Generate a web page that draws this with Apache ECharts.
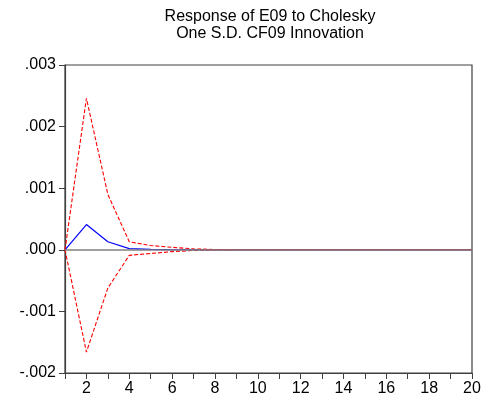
<!DOCTYPE html>
<html>
<head>
<meta charset="utf-8">
<script src="https://cdn.jsdelivr.net/npm/echarts@6/dist/echarts.min.js"></script>
<style>
  html, body { margin: 0; padding: 0; background: #fff; }
  #chart { width: 487px; height: 403px; }
</style>
</head>
<body>
<div id="chart"></div>
<script>
var periods = [1,2,3,4,5,6,7,8,9,10,11,12,13,14,15,16,17,18,19,20];
var response = [0, 0.00041, 0.00013, 0.00002, 0.000006, 0.000002, 0.000001, 0, 0, 0, 0, 0, 0, 0, 0, 0, 0, 0, 0, 0];
var upperBand = [0, 0.00246, 0.0009, 0.00013, 0.00007, 0.00004, 0.000015, 0.000005, 0, 0, 0, 0, 0, 0, 0, 0, 0, 0, 0, 0];
var lowerBand = [0, -0.00166, -0.00062, -0.00009, -0.00006, -0.00003, -0.00001, -0.000003, 0, 0, 0, 0, 0, 0, 0, 0, 0, 0, 0, 0];
var yTicks = [-0.002, -0.001, 0, 0.001, 0.002, 0.003];

function pairs(vals) {
    return periods.map(function (p, i) { return [p, vals[i]]; });
}

var chart = echarts.init(document.getElementById('chart'));
var axisColor = '#404040';
var font = 'Liberation Sans, Arial, sans-serif';
var option = {
    backgroundColor: '#fff',
    animation: false,
    title: {
        text: 'Response of E09 to Cholesky\nOne S.D. CF09 Innovation',
        left: 265,
        textAlign: 'center',
        top: 3,
        textStyle: {
            fontFamily: font,
            fontSize: 16,
            fontWeight: 'normal',
            color: '#000',
            lineHeight: 17
        }
    },
    grid: {
        left: 65, right: 15, top: 65, bottom: 30,
        show: true,
        borderColor: axisColor,
        borderWidth: 1.2
    },
    xAxis: {
        type: 'value',
        min: 1, max: 20, interval: 1,
        axisLine: { show: true, onZero: false, lineStyle: { color: axisColor, width: 1.2 } },
        axisTick: { show: true, inside: false, length: 6, lineStyle: { color: axisColor } },
        splitLine: { show: false },
        axisLabel: {
            color: '#000', fontSize: 16, margin: 8,
            fontFamily: font,
            formatter: function (v) { return v % 2 === 0 ? String(v) : ''; }
        }
    },
    yAxis: {
        type: 'value',
        min: yTicks[0], max: yTicks[yTicks.length - 1], interval: 0.001,
        axisLine: { show: true, lineStyle: { color: axisColor, width: 1.2 } },
        axisTick: { show: true, inside: false, length: 6, lineStyle: { color: axisColor } },
        splitLine: { show: false },
        axisLabel: {
            color: '#000', fontSize: 16, margin: 9,
            fontFamily: font,
            formatter: function (v) {
                var s = (Math.round(v * 1000) / 1000).toFixed(3);
                return s.replace(/^(-?)0\./, '$1.');
            }
        }
    },
    series: [
        {
            type: 'line',
            data: [],
            silent: true,
            z: 1,
            markLine: {
                symbol: 'none',
                silent: true,
                label: { show: false },
                lineStyle: { color: '#808080', width: 1.5, type: 'solid' },
                data: [{ yAxis: 0 }]
            }
        },
        {
            type: 'line', data: pairs(response), showSymbol: false, z: 3,
            lineStyle: { color: '#0000ff', width: 1.2 }
        },
        {
            type: 'line', data: pairs(upperBand), showSymbol: false, z: 4,
            lineStyle: { color: '#ff0000', width: 1.1, type: [4, 2] }
        },
        {
            type: 'line', data: pairs(lowerBand), showSymbol: false, z: 4,
            lineStyle: { color: '#ff0000', width: 1.1, type: [4, 2] }
        }
    ]
};
chart.setOption(option);
</script>
</body>
</html>
